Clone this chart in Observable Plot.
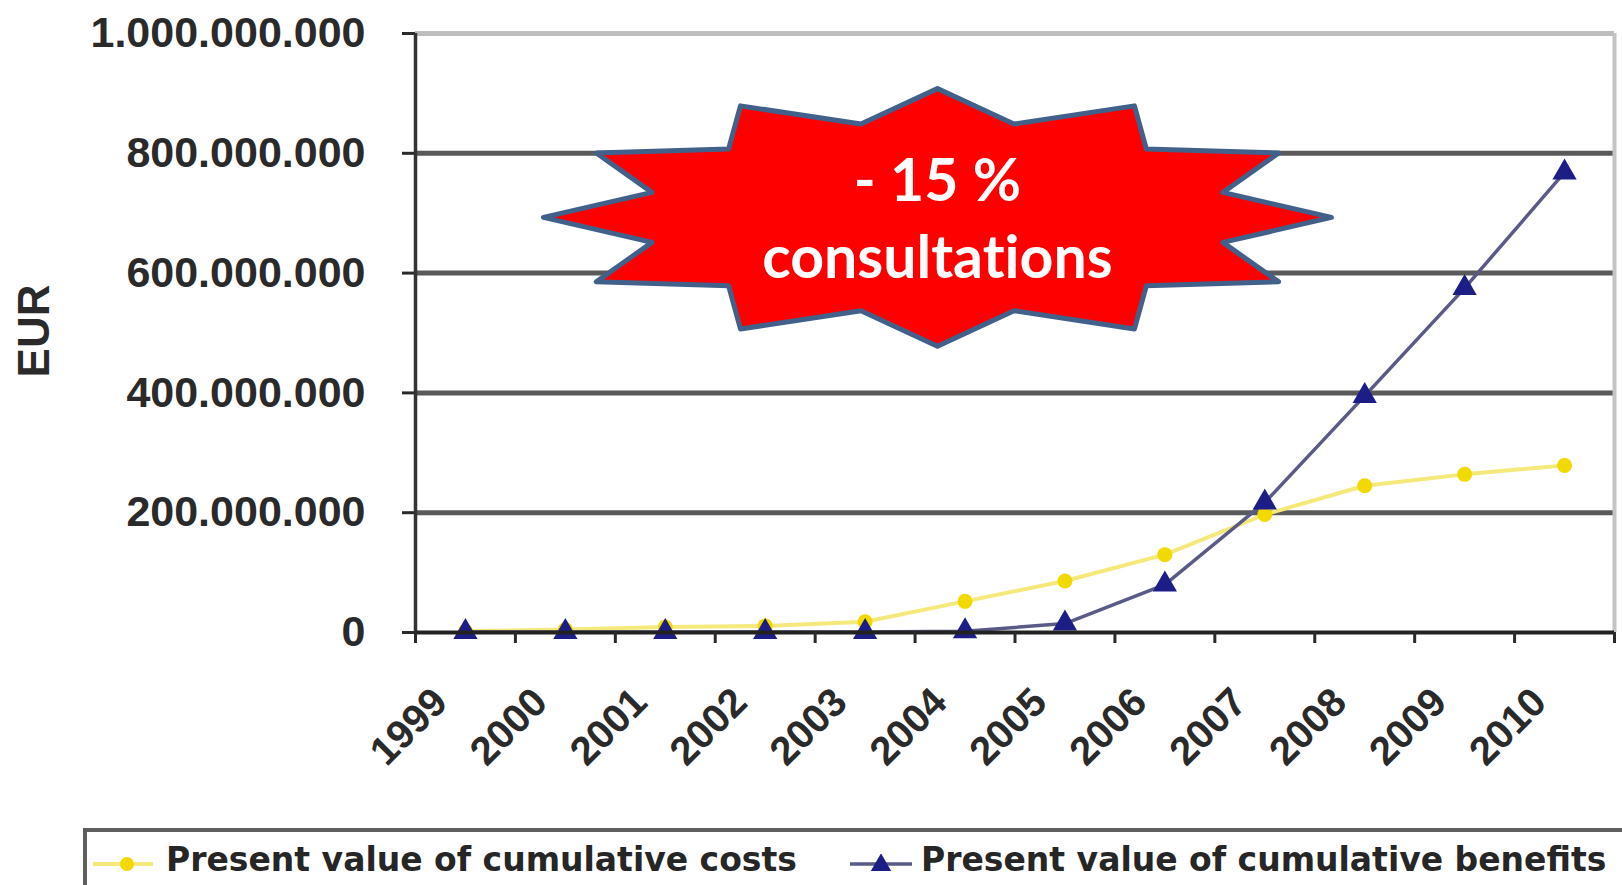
<!DOCTYPE html>
<html><head><meta charset="utf-8">
<script src="https://cdn.jsdelivr.net/npm/d3@7"></script>
<script src="https://cdn.jsdelivr.net/npm/@observablehq/plot@0.6"></script>
<style>
html,body{margin:0;padding:0;background:#fff;}
#wrap{position:relative;width:1622px;height:885px;overflow:hidden;background:#fff;}
#chart svg{display:block;}
#legend{position:absolute;left:83px;top:828px;width:1600px;height:100px;border-top:4px solid #5e5e5e;border-left:4px solid #5e5e5e;}
#legend .k{position:absolute;top:22px;}
#legend .t{position:absolute;top:11px;font-family:"DejaVu Sans",sans-serif;font-weight:bold;font-size:33px;line-height:33px;color:#262626;white-space:nowrap;}
</style></head>
<body><div id="wrap"><div id="chart"></div><div id="legend"></div></div>
<script>
// ---- data ----
const years = ["1999","2000","2001","2002","2003","2004","2005","2006","2007","2008","2009","2010"];
const costs = [2e6, 5e6, 9e6, 11e6, 18e6, 52e6, 86e6, 130e6, 197e6, 245e6, 264e6, 279e6];
const benefits = [1e6, 1e6, 1e6, 1e6, 1e6, 2e6, 15e6, 80e6, 217e6, 395e6, 575e6, 768e6];
const yTicks = [0, 200000000, 400000000, 600000000, 800000000, 1000000000];
const seriesNames = ["Present value of cumulative costs", "Present value of cumulative benefits"];
const yLabel = "EUR";
const callout = ["- 15 %", "consultations"];

// ---- styles ----
const costColor = "#f2d900", costLine = "#f6e97c";
const benColor = "#1d1d87", benLine = "#5a5a86";
const pos = (d, i) => i + 0.5;

// callout star (12-point), in data units
const starC = {x: 5.224, y: 693e6}, starRx = 3.943, starRy = 215e6;
const star = d3.range(24).map(k => {
  const a = k * Math.PI / 12, r = k % 2 ? 0.75 : 1;
  return {x: starC.x + r * starRx * Math.cos(a), y: starC.y + r * starRy * Math.sin(a)};
});

const fmt = v => d3.format(",")(v).replace(/,/g, ".");

const chart = Plot.plot({
  width: 1622, height: 815,
  marginLeft: 415, marginRight: 8, marginTop: 33, marginBottom: 183,
  x: {domain: [0, years.length], axis: null},
  y: {domain: [0, 1e9], axis: null},
  style: {fontFamily: "Liberation Sans, Arial, sans-serif", background: "white", color: "#2a2a2a", overflow: "visible"},
  marks: [
    Plot.ruleY(yTicks.filter(v => v > 0 && v < 1e9), {stroke: "#5a5a5a", strokeWidth: 5}),
    Plot.ruleY([1e9], {stroke: "#bdbdbd", strokeWidth: 5}),
    Plot.ruleX([years.length], {stroke: "#c4c4c4", strokeWidth: 4}),
    Plot.line(costs, {x: pos, y: d => d, stroke: costLine, strokeWidth: 4}),
    Plot.dot(costs, {x: pos, y: d => d, r: 7.5, fill: costColor}),
    Plot.line(benefits, {x: pos, y: d => d, stroke: benLine, strokeWidth: 3.5}),
    Plot.dot(benefits, {x: pos, y: d => d, symbol: "triangle", r: 9, fill: benColor}),
    Plot.axisY({ticks: yTicks, label: null, tickSize: 13, tickPadding: 37, tickFormat: fmt, fontSize: 43, fontWeight: "bold", strokeWidth: 3}),
    Plot.ruleX([0], {stroke: "#333", strokeWidth: 3.5}),
    Plot.ruleY([0], {stroke: "#222", strokeWidth: 4}),
    Plot.axisX({ticks: d3.range(years.length + 1), label: null, tickSize: 11, tickFormat: () => "", strokeWidth: 3}),
    Plot.text(years, {x: pos, y: () => 0, text: d => d, rotate: -45, textAnchor: "end", dx: -25, dy: 63, fontSize: 40, fontWeight: "bold"}),
    Plot.text([yLabel], {frameAnchor: "left", textAnchor: "middle", rotate: -90, dx: -381, dy: -2, fontSize: 44, fontWeight: "bold"}),
    Plot.line(star, {x: "x", y: "y", curve: "linear-closed", fill: "#ff0000", stroke: "#41618a", strokeWidth: 5}),
    Plot.text([callout.join("\n")], {x: () => starC.x, y: () => starC.y, dy: -3, fill: "white", fontSize: 59, fontWeight: "bold", lineHeight: 77 / 59, fontFamily: "Lato, sans-serif"})
  ]
});
chart.querySelectorAll("text").forEach(t => t.style.fontVariantLigatures = "none");
document.getElementById("chart").appendChild(chart);

// legend
const lg = document.getElementById("legend");
const mk = (i) => {
  const w = i === 0 ? 60 : 62, left = i === 0 ? 6 : 763;
  const s = d3.create("svg").attr("class", "k").attr("width", w).attr("height", 20).style("left", left + "px");
  if (i === 0) {
    s.append("line").attr("x1", 0).attr("x2", w).attr("y1", 10).attr("y2", 10).attr("stroke", costLine).attr("stroke-width", 4);
    s.append("circle").attr("cx", w / 2 + 4).attr("cy", 10).attr("r", 7).attr("fill", costColor);
  } else {
    s.append("line").attr("x1", 0).attr("x2", w).attr("y1", 10).attr("y2", 10).attr("stroke", benLine).attr("stroke-width", 3.5);
    s.append("path").attr("d", d3.symbol(d3.symbolTriangle, 180)()).attr("transform", `translate(${w / 2},11)`).attr("fill", benColor);
  }
  lg.appendChild(s.node());
  const t = document.createElement("div");
  t.className = "t"; t.style.left = (i === 0 ? 79 : 834) + "px"; t.textContent = seriesNames[i];
  lg.appendChild(t);
};
mk(0); mk(1);
</script></body></html>
